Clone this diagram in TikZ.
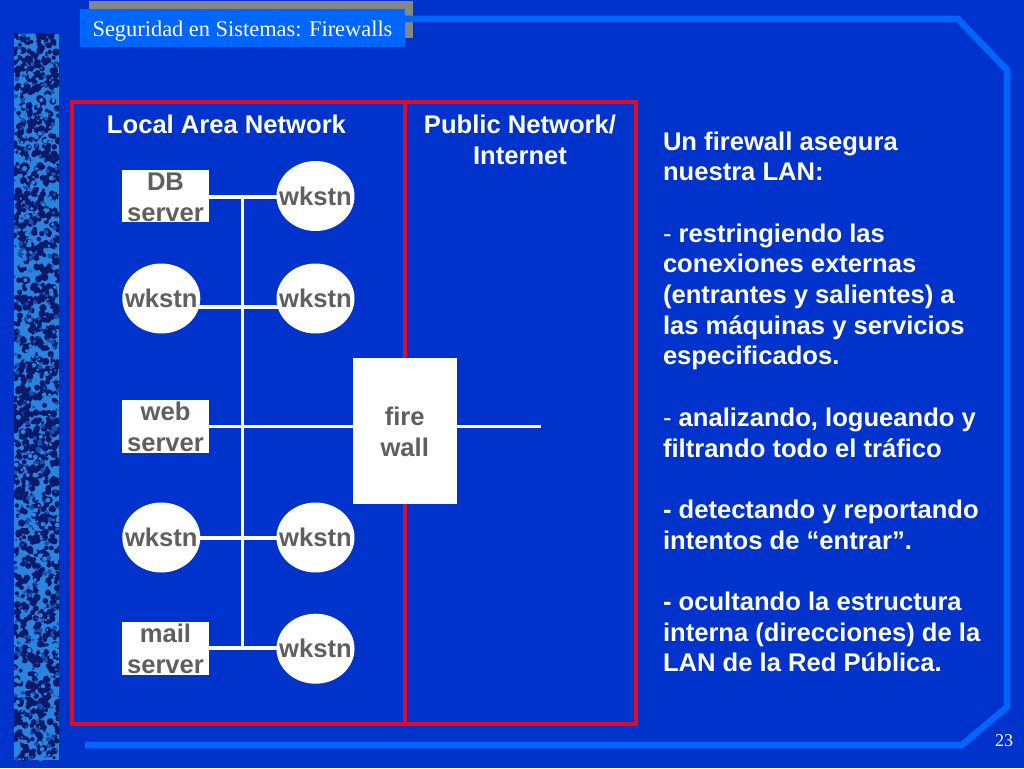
\documentclass[tikz,border=0pt]{standalone}
\usepackage{fontspec}
\setmainfont{Liberation Sans}
\newfontfamily\serifttl{Liberation Serif}
\usetikzlibrary{shapes.geometric}
\definecolor{bgblue}{HTML}{0033CC}
\definecolor{lineblue}{HTML}{0066FF}
\definecolor{frmred}{HTML}{DD0D2A}
\definecolor{txtgray}{HTML}{5F5F5F}
\definecolor{shadegray}{HTML}{868686}
\definecolor{texlight}{HTML}{2B83E0}
\definecolor{texmid}{HTML}{1450B0}
\definecolor{texdark}{HTML}{0A1A6A}
\newcommand{\twolines}[2]{\smash{\raisebox{-25pt}{\vbox{\baselineskip=30.7pt\lineskiplimit=-50pt\halign{\hfil##\hfil\cr #1\cr #2\cr}}}}}
\newcommand{\hostlabel}{\smash{\raisebox{-9pt}{\makebox[0pt]{wkstn}}}}
\newcommand{\lighthyph}{\textmd{-}}
\pgfdeclarelayer{backdrop}
\pgfdeclarelayer{wirelayer}
\pgfsetlayers{backdrop,wirelayer,main}
\tikzset{
  x=1pt,y=-1pt,
  netfont/.style={font=\fontsize{25.6}{30.7}\selectfont\bfseries},
  hostnode/.style={ellipse,fill=white,text=txtgray,netfont,minimum width=78pt,minimum height=70pt,inner sep=0pt,outer sep=0pt},
  srvnode/.style={rectangle,fill=white,text=txtgray,netfont,minimum width=87pt,minimum height=52.5pt,inner sep=0pt,outer sep=0pt},
  fwnode/.style={rectangle,fill=white,text=txtgray,netfont,minimum width=104pt,minimum height=146pt,inner sep=0pt,outer sep=0pt},
  wire/.style={draw=white,line width=3.4pt},
  head/.style={text=white,netfont,inner sep=0pt,outer sep=0pt},
  frame/.style={draw=frmred,line width=3.4pt},
  deco/.style={draw=lineblue,line width=6.5pt,miter limit=10},
}
\begin{document}
\begin{tikzpicture}
\useasboundingbox (0,0) rectangle (1024,768);
\begin{pgfonlayer}{backdrop}
\fill[bgblue] (0,0) rectangle (1024,768);
\fill[texlight] (14,34) rectangle (59,760);
\begin{scope}
\clip (14,34) rectangle (59,760);
\pgfmathsetseed{4217}
\foreach \i in {1,...,1300}{
  \pgfmathsetmacro{\px}{14+45*rnd}
  \pgfmathsetmacro{\py}{34+726*rnd}
  \pgfmathsetmacro{\pr}{1.8+2*rnd}
  \fill[texdark] (\px,\py) circle[radius=\pr];
}
\foreach \i in {1,...,300}{
  \pgfmathsetmacro{\px}{14+45*rnd}
  \pgfmathsetmacro{\py}{34+726*rnd}
  \pgfmathsetmacro{\pr}{1+1.5*rnd}
  \fill[texmid] (\px,\py) circle[radius=\pr];
}
\foreach \i in {1,...,350}{
  \pgfmathsetmacro{\px}{14+45*rnd}
  \pgfmathsetmacro{\py}{34+726*rnd}
  \pgfmathsetmacro{\pr}{1+1.5*rnd}
  \fill[texlight] (\px,\py) circle[radius=\pr];
}
\end{scope}
\fill[shadegray] (89,1) rectangle (413,38);
\draw[deco] (405,19) -- (958,19) -- (1007,70) -- (1007,707) -- (962,745) -- (85,745);
\end{pgfonlayer}
\node[fill=lineblue,minimum width=325pt,minimum height=38pt,inner sep=0pt,outer sep=0pt,text=white,font=\serifttl\fontsize{22.4}{26}\selectfont] (title) at (242.5,28) {\smash{\raisebox{-8.5pt}{Seguridad en Sistemas: Firewalls}}};
\node[text=white,inner sep=0pt,font=\serifttl\fontsize{18}{22}\selectfont,anchor=base] (pagenum) at (1004,746) {23};
% frame
\coordinate (fa) at (72,102);
\coordinate (fb) at (636,724);
\coordinate (fc) at (404.8,102);
\coordinate (fd) at (404.8,724);
\draw[frame] (fa) rectangle (fb);
\draw[frame] (fc) -- (fd);
\node[head,anchor=base] (lan) at (226.5,133) {Local Area Network};
\node[head,anchor=base] (pub) at (520,133) {Public Network/};
\node[head,anchor=base] (inet) at (520,164) {Internet};
% network nodes
\node[srvnode] (db) at (165.5,196) {\twolines{DB}{server}};
\node[hostnode] (w1) at (315.5,196) {\hostlabel};
\node[hostnode] (w2) at (161.3,298.5) {\hostlabel};
\node[hostnode] (w3) at (315.5,298.5) {\hostlabel};
\node[srvnode] (web) at (165.5,426.5) {\twolines{web}{server}};
\node[hostnode] (w4) at (161.3,537.5) {\hostlabel};
\node[hostnode] (w5) at (315.5,537.5) {\hostlabel};
\node[srvnode] (mail) at (165.5,648.5) {\twolines{mail}{server}};
\node[hostnode] (w6) at (315.5,648.7) {\hostlabel};
\node[fwnode] (fw) at (404.7,431) {\twolines{fire}{wall}};
% bus
\coordinate (bt) at (242.5,197);
\coordinate (br2) at (242.5,307);
\coordinate (bb) at (242.5,648);
\coordinate (bw) at (242.5,426.5);
\coordinate (br4) at (242.5,538);
\coordinate (out) at (541,426.5);
\begin{pgfonlayer}{wirelayer}
\draw[wire] (db |- bt) -- (w1 |- bt);
\draw[wire] (w2 |- br2) -- (w3 |- br2);
\draw[wire] (web |- bw) -- (fw |- bw);
\draw[wire] (fw |- bw) -- (out);
\draw[wire] (w4 |- br4) -- (w5 |- br4);
\draw[wire] (mail |- bb) -- (w6 |- bb);
\draw[wire] (bt) -- (bb);
\end{pgfonlayer}
% text
\node[text=white,netfont,anchor=north west,align=left,inner sep=0pt,outer sep=0pt] (body) at (663,131.5) {Un firewall asegura\\nuestra LAN:\\[30.7pt]\lighthyph{} restringiendo las\\conexiones externas\\(entrantes y salientes) a\\las máquinas y servicios\\especificados.\\[30.7pt]\lighthyph{} analizando, logueando y\\filtrando todo el tráfico\\[30.7pt]- detectando y reportando\\intentos de “entrar”.\\[30.7pt]- ocultando la estructura\\interna (direcciones) de la\\LAN de la Red Pública.};
\end{tikzpicture}
\end{document}
